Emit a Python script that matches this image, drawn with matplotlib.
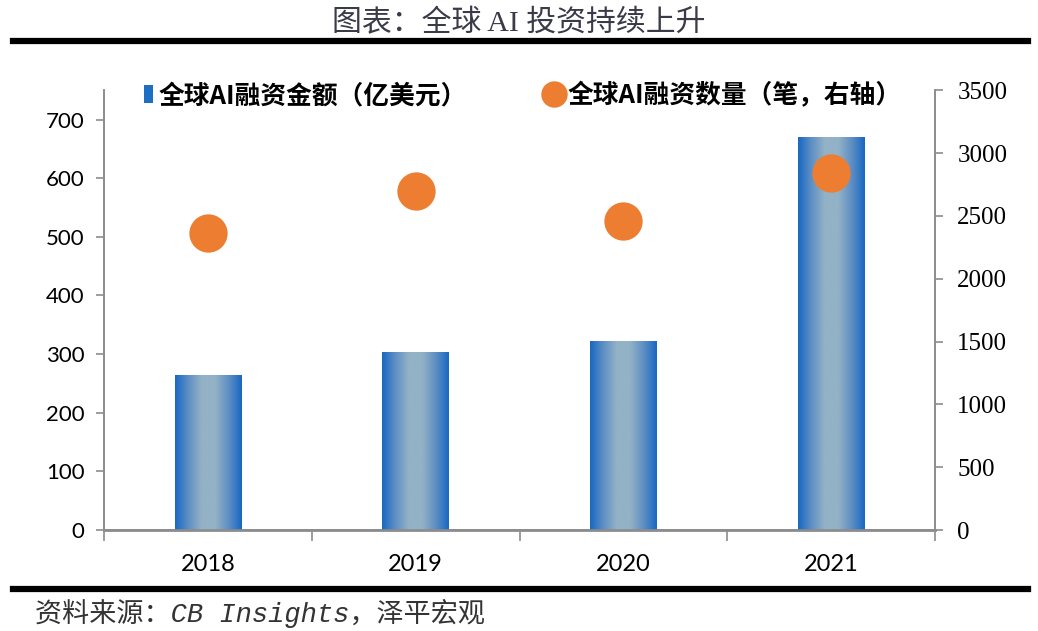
import matplotlib
matplotlib.use('Agg')
import matplotlib.pyplot as plt
import numpy as np
from matplotlib.colors import LinearSegmentedColormap
from matplotlib.lines import Line2D
from matplotlib.patches import Patch

plt.rcParams['font.family'] = ['Noto Sans CJK SC', 'DejaVu Sans']

years = ['2018', '2019', '2020', '2021']
amount = [264, 303, 322, 669]        # 亿美元
deals = [2363, 2697, 2458, 2840]     # 笔, right axis

bar_blue = '#1E6EC3'
dot_orange = '#ED7D31'
grey = '#8C8C8C'

fig = plt.figure(figsize=(10.38, 6.31), dpi=100)
ax = fig.add_axes([0.1002, 0.160, 0.8006, 0.697])
ax2 = ax.twinx()

x = np.arange(len(years))
bars = ax.bar(x, amount, width=0.32, color=bar_blue, zorder=2)

# gradient fill on each bar: dark blue edges, pale grey-blue centre
cmap = LinearSegmentedColormap.from_list('bar', ['#1868C2', '#5F8FC4', '#93B2C6', '#93B2C6', '#5F8FC4', '#1868C2'])
grad = np.linspace(0, 1, 256).reshape(1, -1)
for b in bars:
    x0, w, h = b.get_x(), b.get_width(), b.get_height()
    ax.imshow(grad, cmap=cmap, extent=[x0, x0 + w, 0, h], aspect='auto', zorder=3)

ax2.scatter(x, deals, s=760, color=dot_orange, zorder=4, linewidths=0)

ax.set_xlim(-0.5, 3.5)
ax.set_ylim(0, 750)
ax2.set_ylim(0, 3500)

ax.set_yticks(range(0, 701, 100))
ax.set_yticklabels([str(v) for v in range(0, 701, 100)], family='Lato', fontsize=16)
ax2.set_yticks(range(0, 3501, 500))
ax2.set_yticklabels([str(v) for v in range(0, 3501, 500)], family='Liberation Serif', fontsize=18)

ax.set_xticks(x)
ax.set_xticklabels(years, family='Lato', fontsize=17)
ax.set_xticks(np.arange(-0.5, 4, 1), minor=True)
ax.tick_params(axis='x', which='major', length=0, pad=17)
ax.tick_params(axis='x', which='minor', length=8, color=grey, width=1.2)
ax.tick_params(axis='y', length=6, color=grey, width=1.2, pad=8)
ax2.tick_params(axis='y', length=6, color=grey, width=1.2, pad=10)

for a in (ax, ax2):
    a.spines['top'].set_visible(False)
    for s in ('left', 'right', 'bottom'):
        a.spines[s].set_color(grey)
        a.spines[s].set_linewidth(1.2)
ax.spines['bottom'].set_linewidth(2.0)

ax.set_zorder(ax2.get_zorder() - 1)
ax2.patch.set_visible(False)

# legends, placed separately so each handle keeps its own size
leg_font = {'weight': 'bold', 'size': 18.5}
fig.legend([Patch(facecolor=bar_blue, edgecolor='none')], ['全球AI融资金额（亿美元）'],
           frameon=False, loc='center left', bbox_to_anchor=(0.139, 0.848),
           borderpad=0, borderaxespad=0, prop=leg_font,
           handlelength=0.32, handleheight=0.7, handletextpad=0.25)
fig.legend([Line2D([], [], marker='o', linestyle='none', markersize=19,
                   markerfacecolor=dot_orange, markeredgewidth=0)],
           ['全球AI融资数量（笔，右轴）'],
           frameon=False, loc='center left', bbox_to_anchor=(0.522, 0.848),
           borderpad=0, borderaxespad=0, prop=leg_font,
           handlelength=0.95, handletextpad=0.05)

# header / footer
fig.text(0.50, 0.963, '图表：全球 AI 投资持续上升', ha='center', va='center',
         fontsize=21.5, color='#3A3A48', family=['Liberation Serif', 'Noto Sans CJK SC'],
         fontweight='light')
fig.add_artist(Line2D([0.0125, 0.990], [0.935, 0.935], color='black', lw=4.5))
fig.add_artist(Line2D([0.0125, 0.990], [0.066, 0.066], color='black', lw=4.5))
fig.text(0.034, 0.028, '资料来源：CB Insights，泽平宏观', ha='left', va='center',
         fontsize=19.5, style='italic', color='#333333',
         family=['Liberation Mono', 'Noto Sans CJK SC'], fontweight='light')

fig.savefig('out.png', dpi=100)
